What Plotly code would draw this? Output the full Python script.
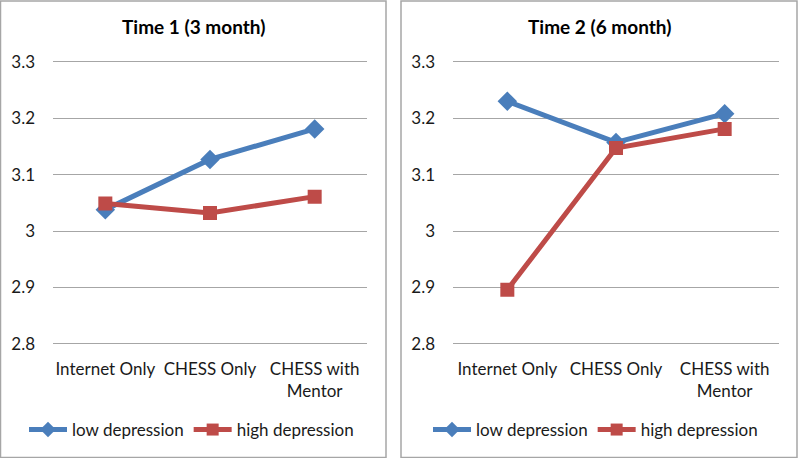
import plotly.graph_objects as go

categories = ["Internet Only", "CHESS Only", "CHESS with<br>Mentor"]
titles = ["Time 1 (3 month)", "Time 2 (6 month)"]
t1_low = [3.038, 3.127, 3.181]
t1_high = [3.049, 3.032, 3.061]
t2_low = [3.230, 3.157, 3.208]
t2_high = [2.896, 3.147, 3.181]
y_ticks = [2.8, 2.9, 3.0, 3.1, 3.2, 3.3]
y_tick_text = ["2.8", "2.9", "3", "3.1", "3.2", "3.3"]

W, H = 800, 458
BLUE = "#4A7EBB"
RED = "#BE4B48"
FONT = "Lato, Carlito, Liberation Sans, sans-serif"

fig = go.Figure()

panels = [
    dict(low=t1_low, high=t1_high, box=(0.5, 386), legend="legend", xa="x", ya="y"),
    dict(low=t2_low, high=t2_high, box=(401, 797), legend="legend2", xa="x2", ya="y2"),
]

for i, p in enumerate(panels):
    fig.add_trace(go.Scatter(
        x=categories, y=p["low"], name="low depression", mode="lines+markers",
        line=dict(color=BLUE, width=5), marker=dict(symbol="diamond", size=15, color=BLUE),
        xaxis=p["xa"], yaxis=p["ya"], legend=p["legend"]))
    fig.add_trace(go.Scatter(
        x=categories, y=p["high"], name="high depression", mode="lines+markers",
        line=dict(color=RED, width=5), marker=dict(symbol="square", size=14, color=RED),
        xaxis=p["xa"], yaxis=p["ya"], legend=p["legend"]))

# 2.8 -> 344 px, 3.3 -> 61.7 px; range padded by 0.005 so edge gridlines are drawn
pxu = (344 - 61.7) / 0.5
ybot = 1 - (344 + 0.005 * pxu) / H
ytop = 1 - (61.7 - 0.005 * pxu) / H

axis_common_x = dict(type="category", range=[-0.5, 2.5], showgrid=False, zeroline=False,
                     showline=False, ticks="", tickfont=dict(size=17, color="#1a1a1a", family=FONT),
                     ticklabelstandoff=10, fixedrange=True, automargin=False)
axis_common_y = dict(range=[2.795, 3.305], tickvals=y_ticks, ticktext=y_tick_text,
                     showgrid=True, gridcolor="#a6a6a6", gridwidth=1, zeroline=False,
                     showline=False, ticks="", tickfont=dict(size=17, color="#1a1a1a", family=FONT),
                     ticklabelstandoff=17, fixedrange=True, automargin=False)

fig.update_layout(
    xaxis=dict(domain=[53 / W, 367 / W], anchor="y", **axis_common_x),
    yaxis=dict(domain=[ybot, ytop], anchor="x", **axis_common_y),
    xaxis2=dict(domain=[453 / W, 779 / W], anchor="y2", **axis_common_x),
    yaxis2=dict(domain=[ybot, ytop], anchor="x2", **axis_common_y),
)

for p in panels:
    fig.add_shape(type="rect", xref="paper", yref="paper",
                  x0=p["box"][0] / W, x1=p["box"][1] / W, y0=0.5 / H, y1=1 - 1 / H,
                  line=dict(color="#a6a6a6", width=1.5), fillcolor="rgba(0,0,0,0)", layer="below")

for i, t in enumerate(titles):
    cx = (panels[i]["box"][0] + panels[i]["box"][1]) / 2
    fig.add_annotation(text="<b>" + t + "</b>", xref="paper", yref="paper",
                       x=cx / W, y=1 - 27 / H, showarrow=False,
                       font=dict(size=19, color="#000000", family=FONT),
                       xanchor="center", yanchor="middle")

legend_common = dict(orientation="h", yanchor="middle", xanchor="left",
                     xref="container", yref="container",
                     font=dict(size=17, color="#1a1a1a", family=FONT),
                     bgcolor="rgba(0,0,0,0)", itemwidth=38, tracegroupgap=0,
                     itemsizing="constant",
                     itemclick=False, itemdoubleclick=False)
fig.update_layout(
    legend=dict(x=24 / W, y=1 - 430 / H, **legend_common),
    legend2=dict(x=428 / W, y=1 - 430 / H, **legend_common),
    showlegend=True,
    width=W, height=H,
    margin=dict(l=0, r=0, t=0, b=0, autoexpand=False),
    paper_bgcolor="white", plot_bgcolor="white",
    font=dict(family=FONT),
)

fig.write_html("out.html", config={"displayModeBar": False},
               post_script="document.body.style.margin='0';document.body.style.overflow='hidden';")
